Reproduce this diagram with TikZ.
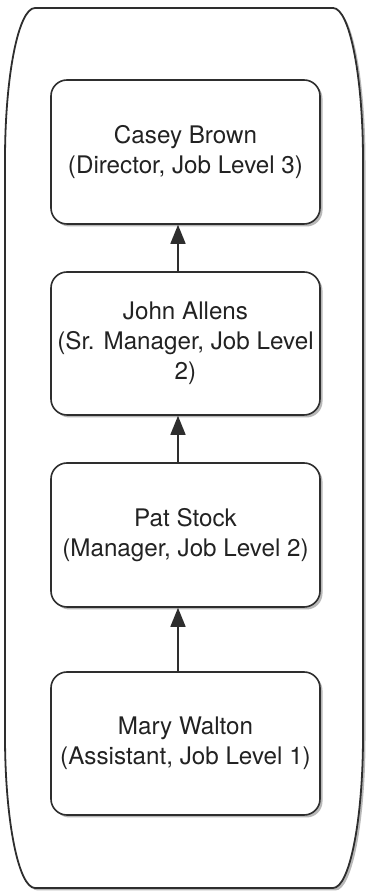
\documentclass[tikz,border=0pt]{standalone}
\usepackage{fontspec}
\setmainfont{TeX Gyre Heros}
\usetikzlibrary{arrows.meta,shadows}
\definecolor{ink}{HTML}{2E2E2E}
\definecolor{txt}{HTML}{222222}
\tikzset{
  shad/.style={drop shadow={shadow xshift=2.5pt,shadow yshift=-2.5pt,fill=black!28,opacity=1}},
  person/.style={draw=ink, line width=1.6pt, fill=white, rounded corners=16pt,
    minimum width=269pt, minimum height=144pt, inner sep=0pt, align=center,
    text=txt, font=\fontsize{24.2}{30}\selectfont, shad},
  outerbox/.style={draw=ink, line width=1.8pt, fill=white, shad},
  arr/.style={draw=ink, line width=1.6pt, -{Triangle[length=19pt,width=15pt]}}
}
\begin{document}
\begin{tikzpicture}[x=1pt,y=1pt]
\useasboundingbox (0,0) rectangle (367,891);
\path[outerbox] (35,883) -- (333,883)
  arc[start angle=90,end angle=0,x radius=30,y radius=152]
  -- (363,155)
  arc[start angle=0,end angle=-90,x radius=30,y radius=152]
  -- (35,3)
  arc[start angle=270,end angle=180,x radius=30,y radius=152]
  -- (5,731)
  arc[start angle=180,end angle=90,x radius=30,y radius=152]
  -- cycle;
\node[person] (b1) at (185.5,739) {Casey Brown\\(Director, Job Level 3)};
\node[person, minimum height=143pt] (b2) at (185.5,547.5) {John Allens\\(Sr. Manager, Job Level\\2)};
\node[person] (b3) at (185.5,356) {Pat Stock\\(Manager, Job Level 2)};
\node[person, minimum height=143pt] (b4) at (185.5,147.5) {Mary Walton\\(Assistant, Job Level 1)};
\draw[arr] ([xshift=-7.5pt]b2.north) -- ([xshift=-7.5pt]b1.south);
\draw[arr] ([xshift=-7.5pt]b3.north) -- ([xshift=-7.5pt]b2.south);
\draw[arr] ([xshift=-7.5pt]b4.north) -- ([xshift=-7.5pt]b3.south);
\end{tikzpicture}
\end{document}
